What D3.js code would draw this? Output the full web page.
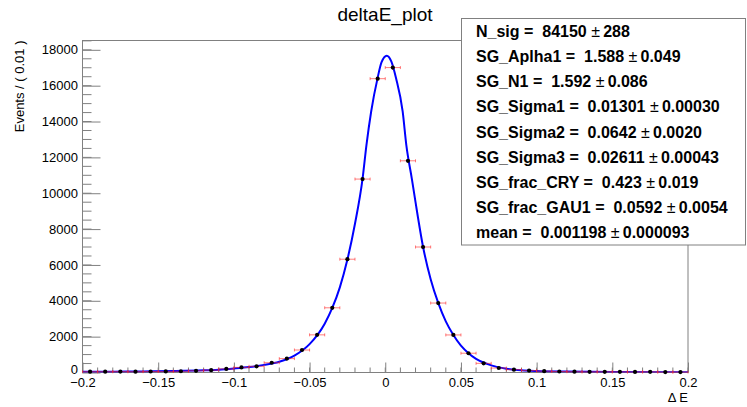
<!DOCTYPE html>
<html>
<head>
<meta charset="utf-8">
<script src="https://cdn.jsdelivr.net/npm/d3@7"></script>
<style>
  body { margin: 0; background: #fff; }
  svg { display: block; font-family: "Liberation Sans", Helvetica, Arial, sans-serif; }
</style>
</head>
<body>
<svg id="chart" width="747" height="407"></svg>
<script>
// histogram bins (width 0.01)
let binCenters = [-0.195, -0.185, -0.175, -0.165, -0.155, -0.145, -0.135, -0.125, -0.115, -0.105,
  -0.095, -0.085, -0.075, -0.065, -0.055, -0.045, -0.035, -0.025, -0.015, -0.005,
  0.005, 0.015, 0.025, 0.035, 0.045, 0.055, 0.065, 0.075, 0.085, 0.095,
  0.105, 0.115, 0.125, 0.135, 0.145, 0.155, 0.165, 0.175, 0.185, 0.195];
let binCounts = [45, 45, 50, 45, 55, 60, 70, 95, 130, 200,
  285, 345, 545, 775, 1255, 2100, 3610, 6320, 10790, 16390,
  17010, 11810, 7000, 3875, 2095, 1075, 510, 250, 160, 105,
  75, 55, 45, 35, 40, 35, 30, 35, 25, 25];

// fitted pdf
let fitX = [-0.2, -0.18, -0.16, -0.14, -0.12, -0.11, -0.1, -0.09, -0.08, -0.07, -0.06, -0.05,
  -0.04, -0.035, -0.03, -0.025, -0.02, -0.015, -0.0124, -0.0093, -0.005, -0.0025, 0.001,
  0.004, 0.0071, 0.0115, 0.0139, 0.0176, 0.02, 0.025, 0.03, 0.035, 0.04, 0.045, 0.05,
  0.055, 0.06, 0.07, 0.08, 0.09, 0.1, 0.12, 0.15, 0.2];
let fitY = [40, 48, 58, 78, 120, 160, 225, 305, 425, 600, 940, 1580,
  2720, 3600, 4750, 6300, 8300, 10800, 12700, 14560, 16450, 17300, 17670,
  17350, 16425, 14560, 12700, 10790, 9500, 7000, 5200, 3880, 2850, 2090, 1500,
  1080, 760, 400, 215, 120, 80, 50, 32, 20];

let xTicks = [-0.2, -0.15, -0.1, -0.05, 0, 0.05, 0.1, 0.15, 0.2];
let yTicks = [0, 2000, 4000, 6000, 8000, 10000, 12000, 14000, 16000, 18000];

let paramNames = ['N_sig', 'SG_Aplha1', 'SG_N1', 'SG_Sigma1', 'SG_Sigma2', 'SG_Sigma3',
  'SG_frac_CRY', 'SG_frac_GAU1', 'mean'];
let paramValues = ['84150', '1.588', '1.592', '0.01301', '0.0642', '0.02611', '0.423', '0.0592', '0.001198'];
let paramErrors = ['288', '0.049', '0.086', '0.00030', '0.0020', '0.00043', '0.019', '0.0054', '0.000093'];

let svg = d3.select('#chart');
let frame = {l: 82.5, r: 688, t: 40.5, b: 372.5};
let axisCol = '#808080';

let x = d3.scaleLinear().domain([-0.2, 0.2]).range([frame.l, frame.r]);
let y = d3.scaleLinear().domain([0, 18520]).range([frame.b, frame.t]);

// title
svg.append('text').attr('x', 385).attr('y', 21).attr('text-anchor', 'middle')
  .attr('font-size', 19).text('deltaE_plot');

// minor ticks
let g = svg.append('g');
d3.range(-0.2, 0.2001, 0.01).forEach(function(v) {
  g.append('line').attr('x1', x(v)).attr('x2', x(v)).attr('y1', frame.b).attr('y2', frame.b - 5)
    .attr('stroke', axisCol);
});
d3.range(0, 18501, 500).forEach(function(v) {
  g.append('line').attr('x1', frame.l).attr('x2', frame.l + 9).attr('y1', y(v)).attr('y2', y(v))
    .attr('stroke', axisCol);
});

// major ticks + labels
let xAxis = svg.append('g').attr('transform', 'translate(0,' + frame.b + ')')
  .call(d3.axisBottom(x).tickValues(xTicks).tickSize(-10).tickPadding(5)
    .tickFormat(d3.format('~g')));
let yAxis = svg.append('g').attr('transform', 'translate(' + frame.l + ',0)')
  .call(d3.axisLeft(y).tickValues(yTicks).tickSize(-18).tickPadding(4.5)
    .tickFormat(d3.format('d')));
[xAxis, yAxis].forEach(function(a) {
  a.select('.domain').remove();
  a.selectAll('line').attr('stroke', axisCol);
  a.selectAll('text').attr('font-size', 13).attr('fill', '#000')
    .attr('font-family', '"Liberation Sans", Helvetica, Arial, sans-serif');
});
// the "0" label sits a bit higher so it clears the x labels
yAxis.selectAll('.tick text').filter(d => d === 0).attr('dy', '0.1em');

// frame
svg.append('rect').attr('x', frame.l).attr('y', frame.t)
  .attr('width', frame.r - frame.l).attr('height', frame.b - frame.t)
  .attr('fill', 'none').attr('stroke', axisCol);

// axis titles
svg.append('text').attr('x', frame.r).attr('y', 401.5).attr('text-anchor', 'end')
  .attr('font-size', 13).text('\u0394 E');
svg.append('text').attr('transform', 'translate(23.5,' + frame.t + ') rotate(-90)')
  .attr('text-anchor', 'end').attr('font-size', 13).text('Events / ( 0.01 )');

// fit curve
svg.append('clipPath').attr('id', 'clip').append('rect')
  .attr('x', frame.l).attr('y', frame.t).attr('width', frame.r - frame.l).attr('height', frame.b - frame.t);
let fitPts = fitX.map(function(v, i) { return [v, fitY[i]]; });
svg.append('path').datum(fitPts).attr('clip-path', 'url(#clip)')
  .attr('d', d3.line().x(d => x(d[0])).y(d => y(d[1])).curve(d3.curveMonotoneX))
  .attr('fill', 'none').attr('stroke', '#0000ff').attr('stroke-width', 2);

// data points with errors
let errCol = 'rgba(255,40,40,0.6)';
let pts = svg.append('g');
binCenters.forEach(function(c, i) {
  let n = binCounts[i], cx = x(c), cy = y(n);
  let hx0 = x(c - 0.005), hx1 = x(c + 0.005);
  pts.append('line').attr('x1', hx0).attr('x2', hx1).attr('y1', cy).attr('y2', cy).attr('stroke', errCol);
  pts.append('line').attr('x1', hx0).attr('x2', hx0).attr('y1', cy - 1.5).attr('y2', cy + 1.5).attr('stroke', errCol);
  pts.append('line').attr('x1', hx1).attr('x2', hx1).attr('y1', cy - 1.5).attr('y2', cy + 1.5).attr('stroke', errCol);
  let e = Math.sqrt(n);
  pts.append('line').attr('x1', cx).attr('x2', cx).attr('y1', y(n - e)).attr('y2', y(n + e)).attr('stroke', errCol);
  pts.append('circle').attr('cx', cx).attr('cy', cy).attr('r', 2.1).attr('fill', '#000');
});

// parameter box
let box = svg.append('g');
box.append('rect').attr('x', 461.5).attr('y', 18.5).attr('width', 284).attr('height', 226.5)
  .attr('fill', '#fff').attr('stroke', axisCol);
paramNames.forEach(function(name, i) {
  let t = box.append('text').attr('x', 476).attr('y', 37 + 25.15 * i)
    .attr('font-size', 16).attr('font-weight', 'bold');
  t.append('tspan').text(name + ' =\u00a0\u00a0' + paramValues[i] + '\u00a0');
  t.append('tspan').attr('font-weight', 'normal').text('\u00b1');
  t.append('tspan').text('\u2009' + paramErrors[i]);
});
</script>
</body>
</html>
